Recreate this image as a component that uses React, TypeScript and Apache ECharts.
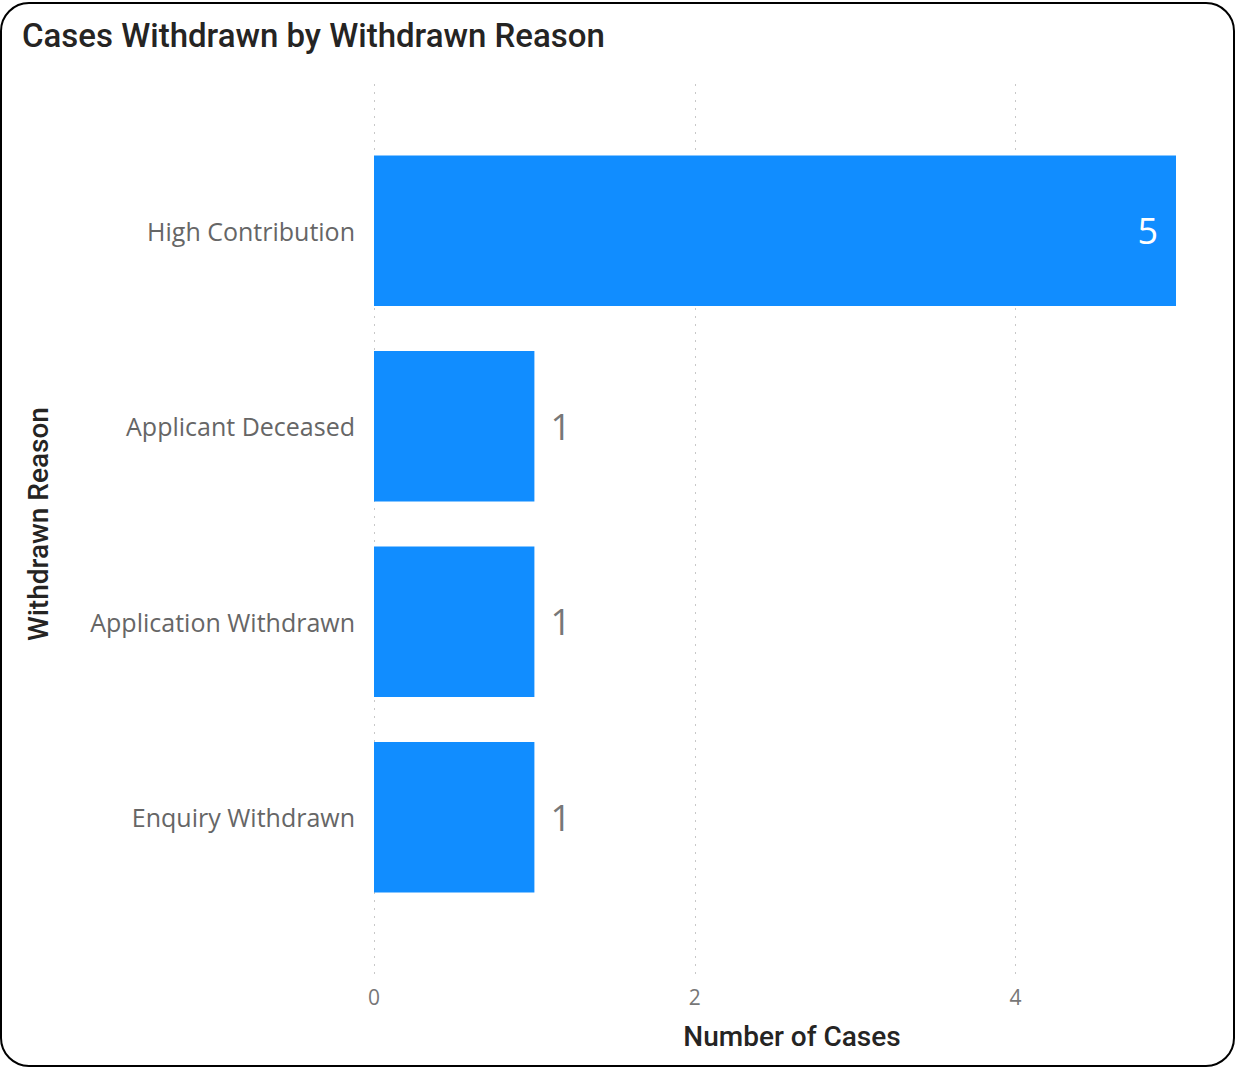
import React, { useEffect, useRef } from "react";
import * as echarts from "echarts";

const categories = ["High Contribution", "Applicant Deceased", "Application Withdrawn", "Enquiry Withdrawn"];
const values = [5, 1, 1, 1];
const xTicks = [0, 2, 4];

const TITLE = "Cases Withdrawn by Withdrawn Reason";
const X_NAME = "Number of Cases";
const Y_NAME = "Withdrawn Reason";

export default function App() {
  const ref = useRef<HTMLDivElement>(null);
  useEffect(() => {
    if (!ref.current) return;
    const chart = echarts.init(ref.current, undefined, { renderer: "svg" });
    const maxV = Math.max(...values);
    const labelFont = "'Open Sans', 'Noto Sans', sans-serif";
    const titleFont = "Roboto, 'DejaVu Sans', sans-serif";
    chart.setOption({
      animation: false,
      backgroundColor: "#ffffff",
      title: {
        text: TITLE,
        left: 17,
        top: 14,
        textStyle: { fontFamily: titleFont, fontSize: 33, fontWeight: 500, color: "#252423" },
      },
      graphic: [
        {
          type: "rect",
          shape: { x: 1, y: 3, width: 1233, height: 1063, r: 28 },
          style: { fill: "none", stroke: "#000", lineWidth: 2 },
          silent: true,
        },
      ],
      grid: [
        { left: 374, right: 60, top: 84, bottom: 92 },
        { left: 374, right: 60, top: 133, bottom: 154 },
      ],
      xAxis: [
        {
          gridIndex: 0,
          type: "value",
          min: 0,
          max: 5,
          interval: xTicks[1] - xTicks[0],
          axisLine: { show: false },
          axisTick: { show: false },
          axisLabel: { color: "#777", fontSize: 21, fontFamily: labelFont, margin: 9, showMaxLabel: false },
          splitLine: { show: true, showMaxLine: false, lineStyle: { type: [2, 6], color: "#c8c8c8", width: 1 } },
          name: X_NAME,
          nameLocation: "middle",
          nameGap: 45,
          nameTextStyle: { fontFamily: titleFont, fontSize: 28, fontWeight: 500, color: "#252423", padding: [0, 0, 0, 34] },
        },
        {
          gridIndex: 1,
          type: "value",
          min: 0,
          max: 5,
          show: false,
        },
      ],
      yAxis: [
        {
          gridIndex: 0,
          type: "category",
          data: categories,
          show: false,
        },
        {
          gridIndex: 1,
          type: "category",
          data: categories,
          inverse: true,
          axisLine: { show: false },
          axisTick: { show: false },
          axisLabel: { color: "#666", fontSize: 25, fontFamily: labelFont, margin: 19 },
          name: Y_NAME,
          nameLocation: "middle",
          nameRotate: 90,
          nameGap: 322,
          nameTextStyle: { fontFamily: titleFont, fontSize: 28, fontWeight: 500, color: "#252423" },
        },
      ],
      series: [
        {
          type: "bar",
          xAxisIndex: 1,
          yAxisIndex: 1,
          barCategoryGap: "23%",
          itemStyle: { color: "#118DFF" },
          label: {
            show: true,
            position: "right",
            distance: 16,
            color: "#777",
            fontSize: 36,
            fontFamily: labelFont,
          },
          data: values.map((v) =>
            v === maxV
              ? { value: v, label: { position: "insideRight", color: "#fff", distance: 18 } }
              : { value: v }
          ),
        },
      ],
    });
    return () => chart.dispose();
  }, []);
  return (
    <div
      ref={ref}
      style={{ position: "absolute", left: 0, top: 0, width: 1236, height: 1069 }}
    />
  );
}
